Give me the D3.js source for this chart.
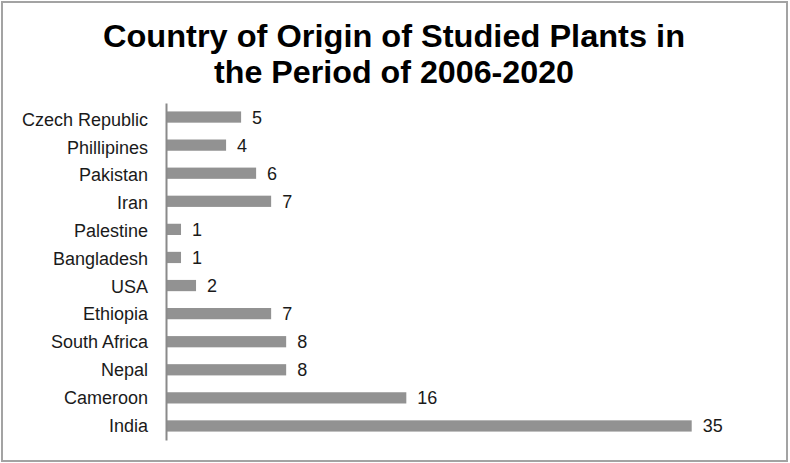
<!DOCTYPE html>
<html>
<head>
<meta charset="utf-8">
<script src="https://cdn.jsdelivr.net/npm/d3@7"></script>
<style>
  html, body { margin: 0; padding: 0; background: #fff; }
  svg { display: block; }
</style>
</head>
<body>
<svg id="chart" width="790" height="463"></svg>
<script>
const titleLines = ["Country of Origin of Studied Plants in", "the Period of 2006-2020"];
const categories = ["Czech Republic", "Phillipines", "Pakistan", "Iran", "Palestine", "Bangladesh", "USA", "Ethiopia", "South Africa", "Nepal", "Cameroon", "India"];
const values = [5, 4, 6, 7, 1, 1, 2, 7, 8, 8, 16, 35];

const svg = d3.select("#chart");
const W = 790, H = 463;
const font = "'Liberation Sans', Arial, sans-serif";

// frame
svg.append("rect")
  .attr("x", 2).attr("y", 2).attr("width", W - 5).attr("height", H - 4)
  .attr("fill", "#fff").attr("stroke", "#a3a3a3").attr("stroke-width", 2);

// title
const titleWidths = [582, 360];
titleLines.forEach((t, i) => {
  svg.append("text")
    .attr("x", 394).attr("y", 47 + i * 36)
    .attr("text-anchor", "middle")
    .attr("font-family", font).attr("font-weight", "bold")
    .attr("font-size", 32).attr("fill", "#000")
    .attr("textLength", titleWidths[i]).attr("lengthAdjust", "spacingAndGlyphs")
    .text(t);
});

const left = 166;
const x = d3.scaleLinear().domain([0, 35]).range([left, 691.7]);
const y = d3.scaleBand().domain(categories).range([103, 440]).paddingInner(0.6).paddingOuter(0.3);
const yLab = d3.scalePoint().domain(categories).range([125.7, 431.7]);

// bars
svg.append("g").selectAll("rect")
  .data(categories)
  .join("rect")
  .attr("x", x(0))
  .attr("y", d => y(d))
  .attr("width", (d, i) => x(values[i]) - x(0))
  .attr("height", y.bandwidth())
  .attr("fill", "#929292");

// y axis line
const ag = svg.append("g").attr("transform", `translate(${left},0)`).call(d3.axisLeft(y).tickSize(0).tickFormat(""));
ag.select(".domain").attr("stroke", "#8a8a8a").attr("stroke-width", 2);

// category labels
svg.append("g").selectAll("text")
  .data(categories)
  .join("text")
  .attr("x", 148)
  .attr("y", d => yLab(d))
  .attr("text-anchor", "end")
  .attr("font-family", font).attr("font-size", 18).attr("fill", "#1a1a1a")
  .text(d => d);

// value labels
svg.append("g").selectAll("text")
  .data(categories)
  .join("text")
  .attr("x", (d, i) => x(values[i]) + 11)
  .attr("y", d => y(d) + y.bandwidth() / 2 + 6.5)
  .attr("font-family", font).attr("font-size", 18).attr("fill", "#1a1a1a")
  .text((d, i) => values[i]);
</script>
</body>
</html>
